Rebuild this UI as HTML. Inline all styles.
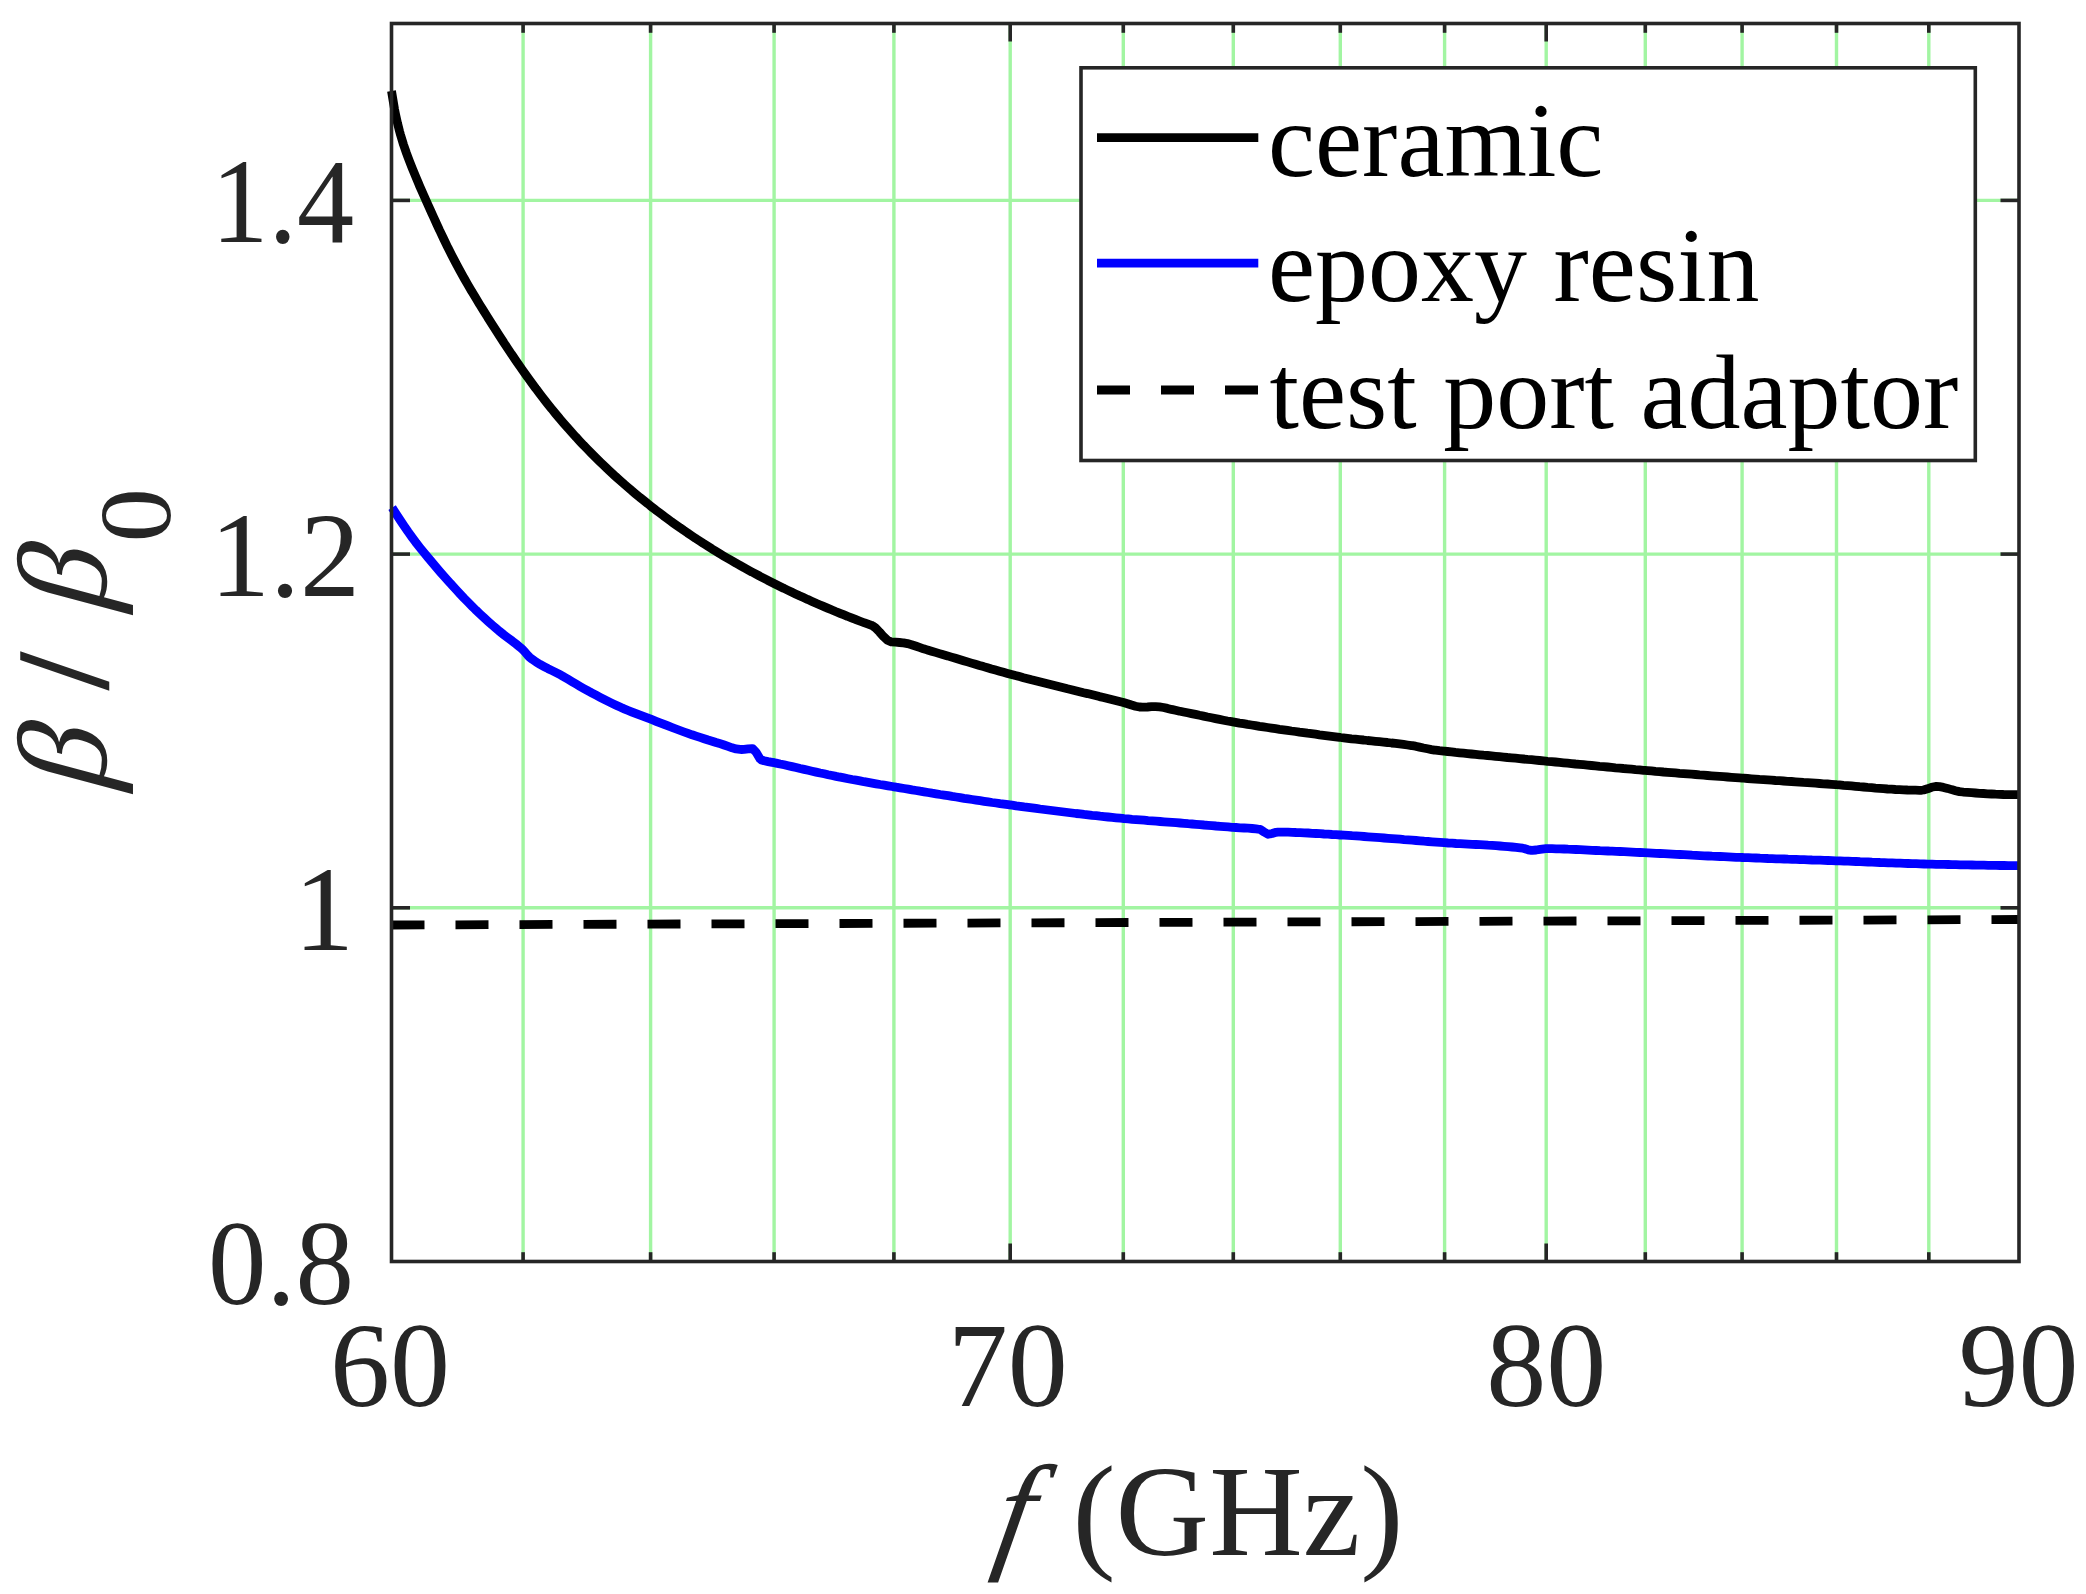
<!DOCTYPE html>
<html lang="en"><head><meta charset="utf-8"><title>beta / beta0 vs f (GHz)</title>
<style>
html,body{margin:0;padding:0;background:#fff;}
body{width:2086px;height:1594px;overflow:hidden;}
svg{display:block;}
text{font-family:"Liberation Serif","Times New Roman",serif;}
.tk{font-size:120px;fill:#262626;}
.lb{font-size:129.5px;fill:#262626;}
.lg{font-size:106px;fill:#000;}
</style></head><body>
<svg width="2086" height="1594" viewBox="0 0 2086 1594">
<rect x="0" y="0" width="2086" height="1594" fill="#fff"/>

<g stroke="#a2f5a2" stroke-width="3.4" fill="none">
<line x1="523.1" y1="23.5" x2="523.1" y2="1261.5"/>
<line x1="650.6" y1="23.5" x2="650.6" y2="1261.5"/>
<line x1="774.1" y1="23.5" x2="774.1" y2="1261.5"/>
<line x1="893.9" y1="23.5" x2="893.9" y2="1261.5"/>
<line x1="1010.2" y1="23.5" x2="1010.2" y2="1261.5"/>
<line x1="1123.3" y1="23.5" x2="1123.3" y2="1261.5"/>
<line x1="1233.3" y1="23.5" x2="1233.3" y2="1261.5"/>
<line x1="1340.3" y1="23.5" x2="1340.3" y2="1261.5"/>
<line x1="1444.6" y1="23.5" x2="1444.6" y2="1261.5"/>
<line x1="1546.2" y1="23.5" x2="1546.2" y2="1261.5"/>
<line x1="1645.3" y1="23.5" x2="1645.3" y2="1261.5"/>
<line x1="1742.1" y1="23.5" x2="1742.1" y2="1261.5"/>
<line x1="1836.5" y1="23.5" x2="1836.5" y2="1261.5"/>
<line x1="1928.8" y1="23.5" x2="1928.8" y2="1261.5"/>
<line x1="391.5" y1="907.8" x2="2019.0" y2="907.8"/>
<line x1="391.5" y1="554.1" x2="2019.0" y2="554.1"/>
<line x1="391.5" y1="200.4" x2="2019.0" y2="200.4"/>
</g>
<clipPath id="c"><rect x="387.0" y="23.5" width="1632.0" height="1238.0"/></clipPath>
<g clip-path="url(#c)" fill="none" stroke-width="8.8" stroke-linejoin="round">
<polyline stroke="#000" points="391.5,91.0 394.5,109.0 395.5,114.0 397.5,123.1 399.5,131.1 400.5,134.7 403.5,144.6 406.5,153.3 407.5,156.0 409.5,161.3 411.5,166.4 412.5,168.9 415.5,176.2 418.5,183.3 419.5,185.7 421.5,190.3 423.5,194.8 424.5,197.1 427.5,203.8 430.5,210.4 431.5,212.6 433.5,217.0 435.5,221.4 436.5,223.6 439.5,230.1 440.0,231.1 443.5,238.5 447.5,246.8 448.0,247.8 451.5,254.7 455.5,262.4 456.0,263.4 459.5,269.9 463.5,277.1 464.0,278.0 467.5,284.1 471.5,290.9 472.0,291.8 475.5,297.6 479.5,304.2 480.0,305.0 483.5,310.6 487.5,317.0 488.0,317.8 491.5,323.3 495.5,329.6 496.0,330.4 499.5,335.9 503.5,342.0 504.0,342.8 507.5,348.1 511.5,354.1 512.0,354.8 515.5,360.0 519.5,365.8 520.0,366.5 523.5,371.5 527.5,377.1 528.0,377.8 531.5,382.6 535.5,388.1 536.0,388.7 539.5,393.4 543.5,398.6 544.0,399.2 547.5,403.7 551.5,408.7 552.0,409.3 555.5,413.6 559.5,418.4 560.0,419.0 563.5,423.1 567.5,427.7 568.0,428.2 571.5,432.2 575.5,436.6 576.0,437.1 579.5,440.9 583.5,445.2 584.0,445.7 587.5,449.3 591.5,453.4 592.0,453.9 595.5,457.4 599.5,461.4 600.0,461.8 603.5,465.2 607.5,469.0 608.0,469.5 611.5,472.7 615.5,476.4 616.0,476.9 619.5,480.0 623.5,483.5 624.0,484.0 627.5,487.0 631.5,490.4 632.0,490.8 635.5,493.8 639.5,497.1 640.0,497.5 643.5,500.3 647.5,503.5 648.0,503.9 651.5,506.7 655.5,509.8 656.0,510.2 659.5,512.8 663.5,515.8 664.0,516.2 667.5,518.8 671.5,521.7 672.0,522.1 675.5,524.6 679.5,527.4 680.0,527.7 683.5,530.2 687.5,532.9 688.0,533.3 691.5,535.6 695.5,538.3 696.0,538.6 699.5,540.9 703.5,543.5 704.0,543.8 707.5,546.0 711.5,548.5 712.0,548.9 715.5,551.0 719.5,553.5 720.0,553.8 723.5,555.9 727.5,558.2 728.0,558.5 731.5,560.6 735.5,562.9 736.0,563.2 739.5,565.1 743.5,567.4 744.0,567.7 747.5,569.6 751.5,571.8 752.0,572.0 755.5,573.9 759.5,576.0 760.0,576.3 763.5,578.1 767.5,580.2 768.0,580.5 771.5,582.2 775.5,584.2 776.0,584.5 779.5,586.2 783.5,588.2 784.0,588.4 787.5,590.1 791.5,592.0 792.0,592.3 795.5,593.9 799.5,595.8 800.0,596.0 803.5,597.6 807.5,599.4 808.0,599.6 811.5,601.2 815.5,603.0 816.0,603.2 819.5,604.7 823.5,606.4 824.0,606.6 827.5,608.1 831.5,609.8 832.0,610.0 835.5,611.5 839.5,613.1 840.0,613.3 843.5,614.7 847.5,616.3 848.0,616.5 851.5,617.9 855.5,619.4 856.0,619.6 859.5,621.0 863.5,622.5 864.0,622.7 867.5,623.9 871.5,625.3 872.7,625.9 875.5,627.9 879.5,632.0 883.5,636.6 887.5,640.3 890.9,641.8 891.5,641.9 895.5,642.2 899.5,642.5 902.9,642.8 903.5,642.9 907.5,643.6 911.5,644.7 915.5,646.0 919.5,647.4 923.5,648.8 927.1,649.9 927.5,650.0 931.5,651.2 935.5,652.4 939.5,653.6 943.5,654.8 947.5,655.9 951.5,657.1 955.5,658.3 959.5,659.5 963.5,660.7 967.5,661.9 971.5,663.1 975.5,664.3 979.5,665.5 983.5,666.6 987.5,667.8 991.5,669.0 995.5,670.1 999.5,671.2 1003.5,672.3 1007.5,673.4 1009.6,674.0 1011.5,674.5 1015.5,675.6 1019.5,676.6 1023.5,677.7 1027.5,678.7 1031.5,679.8 1035.5,680.8 1039.5,681.8 1043.5,682.8 1047.5,683.8 1051.5,684.8 1055.5,685.8 1059.5,686.8 1063.5,687.8 1067.5,688.8 1071.5,689.7 1075.5,690.7 1079.5,691.7 1083.5,692.7 1087.5,693.6 1091.5,694.6 1095.5,695.6 1099.5,696.6 1103.5,697.5 1107.5,698.5 1111.5,699.5 1115.5,700.5 1119.5,701.5 1122.4,702.2 1123.5,702.5 1127.5,703.7 1131.5,705.0 1135.5,706.2 1139.5,707.0 1142.5,707.2 1143.5,707.2 1147.5,707.0 1151.5,706.7 1154.6,706.6 1155.5,706.6 1159.5,706.9 1163.5,707.5 1167.5,708.4 1171.5,709.4 1175.5,710.3 1179.5,711.2 1180.0,711.3 1183.5,712.0 1187.5,712.8 1191.5,713.6 1195.5,714.4 1199.5,715.3 1203.5,716.1 1207.5,717.0 1211.5,717.8 1215.5,718.6 1219.5,719.4 1223.5,720.2 1227.5,721.0 1231.5,721.7 1232.7,721.9 1235.5,722.4 1239.5,723.1 1243.5,723.7 1247.5,724.4 1251.5,725.0 1255.5,725.6 1259.5,726.3 1263.5,726.9 1267.5,727.5 1271.5,728.1 1275.5,728.7 1279.5,729.3 1283.5,729.8 1287.5,730.4 1291.5,731.0 1295.5,731.5 1299.5,732.1 1303.5,732.6 1307.5,733.2 1311.5,733.7 1315.5,734.2 1319.5,734.8 1323.5,735.3 1327.5,735.8 1331.5,736.3 1335.5,736.8 1339.5,737.3 1340.7,737.5 1343.5,737.8 1347.5,738.3 1351.5,738.8 1355.5,739.2 1359.5,739.6 1363.5,740.0 1367.5,740.5 1371.5,740.9 1375.5,741.3 1379.5,741.7 1383.5,742.1 1387.5,742.5 1391.5,743.0 1395.5,743.4 1399.5,743.9 1403.5,744.4 1407.5,745.0 1411.5,745.6 1412.4,745.7 1415.5,746.2 1419.5,747.1 1423.5,748.0 1427.5,748.8 1431.5,749.6 1434.5,750.1 1435.5,750.2 1439.5,750.7 1443.5,751.1 1444.4,751.2 1447.5,751.5 1451.5,751.9 1455.5,752.4 1459.5,752.8 1463.5,753.2 1467.5,753.6 1471.5,754.0 1475.5,754.4 1479.5,754.8 1483.5,755.2 1487.5,755.5 1491.5,755.9 1495.5,756.3 1499.5,756.7 1503.5,757.1 1507.5,757.5 1511.5,757.8 1515.5,758.2 1519.5,758.6 1523.5,759.0 1527.5,759.4 1531.5,759.7 1535.5,760.1 1539.5,760.5 1543.5,760.9 1545.8,761.1 1547.5,761.3 1551.5,761.6 1555.5,762.0 1559.5,762.4 1563.5,762.8 1567.5,763.2 1571.5,763.6 1575.5,764.0 1579.5,764.3 1583.5,764.7 1587.5,765.1 1591.5,765.5 1595.5,765.9 1599.5,766.3 1603.5,766.6 1607.5,767.0 1611.5,767.4 1615.5,767.8 1619.5,768.1 1623.5,768.5 1627.5,768.8 1631.5,769.2 1635.5,769.6 1639.5,769.9 1643.5,770.3 1645.1,770.4 1647.5,770.6 1651.5,770.9 1655.5,771.3 1659.5,771.6 1663.5,772.0 1667.5,772.3 1671.5,772.6 1675.5,772.9 1679.5,773.3 1683.5,773.6 1687.5,773.9 1691.5,774.2 1695.5,774.5 1699.5,774.9 1703.5,775.2 1707.5,775.5 1711.5,775.8 1715.5,776.1 1719.5,776.4 1723.5,776.7 1727.5,777.0 1731.5,777.3 1735.5,777.6 1739.5,777.9 1742.1,778.1 1743.5,778.2 1747.5,778.5 1751.5,778.8 1755.5,779.1 1759.5,779.4 1763.5,779.6 1767.5,779.9 1771.5,780.2 1775.5,780.5 1779.5,780.7 1783.5,781.0 1787.5,781.3 1791.5,781.5 1795.5,781.8 1799.5,782.1 1803.5,782.4 1807.5,782.6 1811.5,782.9 1815.5,783.2 1819.5,783.5 1823.5,783.8 1827.5,784.0 1831.5,784.3 1835.5,784.6 1836.5,784.7 1839.5,784.9 1843.5,785.3 1847.5,785.6 1851.5,785.9 1855.5,786.3 1859.5,786.7 1863.5,787.0 1867.5,787.4 1871.5,787.7 1875.5,788.1 1879.5,788.4 1883.5,788.7 1887.5,789.0 1891.5,789.2 1895.5,789.5 1898.7,789.6 1899.5,789.6 1903.5,789.8 1907.5,790.0 1911.5,790.1 1915.5,790.2 1919.5,790.3 1920.8,790.3 1923.5,790.0 1927.5,788.8 1931.5,787.3 1935.5,786.5 1936.2,786.5 1939.5,786.7 1943.5,787.4 1947.5,788.4 1951.5,789.6 1955.5,790.7 1959.5,791.6 1962.7,792.0 1963.5,792.1 1967.5,792.4 1971.5,792.7 1975.5,793.0 1979.5,793.3 1983.5,793.5 1987.5,793.8 1991.5,794.0 1995.5,794.2 1999.5,794.3 2003.5,794.5 2007.5,794.6 2011.5,794.6 2015.5,794.7 2018.9,794.7"/>
<polyline stroke="#0000ff" points="392.1,507.6 396.1,513.9 400.1,520.0 402.1,523.0 404.1,525.9 408.1,531.8 412.1,537.4 415.3,541.7 416.1,542.8 420.1,547.9 424.1,552.8 428.1,557.6 429.6,559.4 432.1,562.4 436.1,567.1 440.1,571.8 444.1,576.3 448.1,580.8 450.6,583.6 452.1,585.2 456.1,589.6 460.1,593.9 464.1,598.2 468.1,602.3 472.1,606.3 474.8,609.0 476.1,610.3 480.1,614.1 484.1,617.8 488.1,621.4 492.1,625.0 496.1,628.4 499.1,631.0 500.1,631.8 504.1,635.0 508.1,638.0 512.1,640.9 516.1,644.0 520.1,647.3 522.9,649.8 524.1,651.0 528.1,655.8 529.9,657.5 532.1,659.2 536.1,662.0 540.1,664.4 544.1,666.6 548.1,668.7 552.1,670.6 556.1,672.6 560.1,674.7 563.0,676.3 564.1,676.9 568.1,679.3 572.1,681.7 576.1,684.0 580.1,686.4 584.1,688.7 588.1,690.9 589.5,691.7 592.1,693.1 596.1,695.2 600.1,697.3 604.1,699.4 608.1,701.4 612.1,703.4 616.1,705.3 620.1,707.1 622.6,708.2 624.1,708.8 628.1,710.5 632.1,712.1 636.1,713.7 640.1,715.2 644.1,716.7 648.1,718.2 650.8,719.2 652.1,719.7 656.1,721.3 660.1,722.8 664.1,724.4 668.1,725.9 672.1,727.5 676.1,729.0 680.1,730.5 684.1,732.0 688.1,733.4 688.7,733.6 692.1,734.8 696.1,736.1 700.1,737.4 704.1,738.7 708.1,740.0 712.1,741.2 716.1,742.5 719.6,743.5 720.1,743.6 724.1,745.0 728.1,746.4 732.1,747.8 736.1,748.9 740.1,749.4 741.6,749.5 744.1,749.4 748.1,748.9 752.1,748.6 752.6,748.6 756.1,752.2 760.1,758.9 761.5,760.0 764.1,760.8 768.1,761.6 772.1,762.3 774.3,762.7 776.1,763.1 780.1,764.0 784.1,764.8 788.1,765.7 792.1,766.6 796.1,767.5 800.1,768.5 804.1,769.4 808.1,770.3 812.1,771.2 816.1,772.1 820.1,773.0 824.1,773.8 828.1,774.7 832.1,775.5 836.1,776.4 840.1,777.2 840.3,777.2 844.1,777.9 848.1,778.7 852.1,779.5 856.1,780.2 860.1,780.9 864.1,781.7 868.1,782.4 872.1,783.1 876.1,783.8 880.1,784.5 884.1,785.1 888.1,785.8 892.1,786.5 893.9,786.8 896.1,787.2 900.1,787.8 904.1,788.5 908.1,789.2 912.1,789.9 916.1,790.5 920.1,791.2 924.1,791.8 928.1,792.5 932.1,793.2 936.1,793.8 940.1,794.5 944.1,795.1 948.1,795.7 952.1,796.4 956.1,797.0 960.1,797.6 964.1,798.3 968.1,798.9 972.1,799.5 976.1,800.1 980.1,800.7 984.1,801.3 988.1,801.9 992.1,802.5 996.1,803.0 1000.1,803.6 1004.1,804.1 1008.1,804.7 1009.6,804.9 1012.1,805.2 1016.1,805.8 1020.1,806.3 1024.1,806.9 1028.1,807.4 1032.1,807.9 1036.1,808.4 1040.1,809.0 1044.1,809.5 1048.1,810.0 1052.1,810.5 1056.1,811.0 1060.1,811.5 1064.1,812.0 1068.1,812.5 1072.1,813.0 1076.1,813.5 1080.1,813.9 1084.1,814.4 1088.1,814.8 1092.1,815.3 1096.1,815.7 1100.1,816.2 1104.1,816.6 1108.1,817.0 1112.1,817.4 1116.1,817.8 1120.1,818.2 1122.4,818.4 1124.1,818.6 1128.1,818.9 1132.1,819.3 1136.1,819.6 1140.1,819.9 1144.1,820.2 1148.1,820.6 1152.1,820.9 1156.1,821.2 1160.1,821.5 1164.1,821.8 1168.1,822.1 1172.1,822.4 1176.1,822.7 1180.0,823.0 1180.1,823.0 1184.1,823.3 1188.1,823.7 1192.1,824.0 1196.1,824.3 1200.1,824.6 1204.1,825.0 1208.1,825.3 1212.1,825.6 1216.1,826.0 1220.1,826.3 1224.1,826.6 1228.1,826.9 1232.1,827.3 1232.7,827.3 1236.1,827.5 1240.1,827.8 1244.1,828.0 1248.1,828.2 1252.1,828.5 1256.1,828.9 1260.1,829.5 1260.3,829.5 1264.1,832.0 1268.0,834.3 1268.1,834.3 1272.1,833.5 1276.1,832.3 1277.9,832.1 1280.1,832.1 1284.1,832.1 1288.1,832.2 1292.1,832.3 1296.1,832.5 1300.1,832.6 1304.1,832.8 1308.1,833.0 1312.1,833.3 1316.1,833.5 1320.1,833.7 1324.1,834.0 1328.1,834.2 1332.1,834.5 1336.1,834.7 1340.1,835.0 1340.7,835.0 1344.1,835.2 1348.1,835.4 1352.1,835.7 1356.1,835.9 1360.1,836.2 1364.1,836.5 1368.1,836.8 1372.1,837.1 1376.1,837.4 1380.1,837.7 1384.1,838.0 1388.1,838.3 1392.1,838.6 1396.1,838.9 1400.1,839.2 1404.1,839.6 1408.1,839.9 1412.1,840.2 1416.1,840.5 1420.1,840.8 1424.1,841.2 1428.1,841.5 1432.1,841.8 1436.1,842.1 1440.1,842.4 1444.1,842.7 1444.4,842.7 1448.1,843.0 1452.1,843.2 1456.1,843.5 1460.1,843.7 1464.1,843.9 1468.1,844.1 1472.1,844.3 1476.1,844.5 1480.1,844.7 1484.1,844.9 1488.1,845.2 1492.1,845.4 1496.1,845.7 1500.1,846.0 1504.1,846.3 1508.1,846.6 1512.1,847.0 1516.1,847.4 1520.1,847.9 1522.7,848.2 1524.1,848.5 1528.1,849.8 1531.5,850.4 1532.1,850.4 1536.1,850.0 1540.1,849.3 1544.1,848.8 1545.8,848.7 1548.1,848.7 1552.1,848.7 1556.1,848.8 1560.1,848.9 1564.1,849.0 1568.1,849.2 1572.1,849.3 1576.1,849.5 1580.1,849.7 1584.1,849.9 1588.1,850.1 1592.1,850.3 1596.1,850.5 1600.1,850.7 1604.1,850.8 1608.1,851.0 1610.0,851.1 1612.1,851.2 1616.1,851.4 1620.1,851.5 1624.1,851.7 1628.1,851.9 1632.1,852.1 1636.1,852.3 1640.1,852.5 1644.1,852.7 1648.1,852.9 1652.1,853.1 1656.1,853.3 1660.1,853.5 1664.1,853.7 1668.1,853.9 1672.1,854.1 1676.1,854.3 1680.1,854.5 1684.1,854.7 1688.1,854.9 1692.1,855.2 1696.1,855.4 1700.1,855.6 1704.1,855.8 1708.1,856.0 1712.1,856.2 1716.1,856.3 1720.1,856.5 1724.1,856.7 1728.1,856.9 1732.1,857.1 1736.1,857.3 1740.1,857.4 1742.1,857.5 1744.1,857.6 1748.1,857.7 1752.1,857.9 1756.1,858.0 1760.1,858.2 1764.1,858.3 1768.1,858.5 1772.1,858.6 1776.1,858.8 1780.1,858.9 1784.1,859.0 1788.1,859.2 1792.1,859.3 1796.1,859.4 1800.1,859.6 1804.1,859.7 1808.1,859.8 1812.1,860.0 1816.1,860.1 1820.1,860.2 1824.1,860.4 1828.1,860.5 1832.1,860.6 1836.1,860.8 1836.5,860.8 1840.1,860.9 1844.1,861.1 1848.1,861.2 1852.1,861.4 1856.1,861.5 1860.1,861.7 1864.1,861.8 1868.1,862.0 1872.1,862.2 1876.1,862.3 1880.1,862.5 1884.1,862.6 1888.1,862.8 1892.1,862.9 1896.1,863.1 1900.1,863.2 1904.1,863.4 1908.1,863.5 1912.1,863.6 1916.1,863.7 1920.1,863.9 1924.1,864.0 1928.1,864.1 1929.6,864.1 1932.1,864.2 1936.1,864.3 1940.1,864.3 1944.1,864.4 1948.1,864.5 1952.1,864.6 1956.1,864.7 1960.1,864.8 1964.1,864.9 1968.1,864.9 1972.1,865.0 1976.1,865.1 1980.1,865.2 1984.1,865.2 1988.1,865.3 1992.1,865.4 1996.1,865.4 2000.1,865.5 2004.1,865.5 2008.1,865.6 2012.1,865.6 2016.1,865.7 2018.9,865.7"/>
<line stroke="#000" x1="391.5" y1="925" x2="2019.0" y2="919.5" stroke-dasharray="33 31"/>
</g>
<g stroke="#262626" stroke-width="3.6" fill="none">
<line x1="523.1" y1="1261.5" x2="523.1" y2="1252.2"/><line x1="523.1" y1="23.5" x2="523.1" y2="32.8"/>
<line x1="650.6" y1="1261.5" x2="650.6" y2="1252.2"/><line x1="650.6" y1="23.5" x2="650.6" y2="32.8"/>
<line x1="774.1" y1="1261.5" x2="774.1" y2="1252.2"/><line x1="774.1" y1="23.5" x2="774.1" y2="32.8"/>
<line x1="893.9" y1="1261.5" x2="893.9" y2="1252.2"/><line x1="893.9" y1="23.5" x2="893.9" y2="32.8"/>
<line x1="1010.2" y1="1261.5" x2="1010.2" y2="1243.5"/><line x1="1010.2" y1="23.5" x2="1010.2" y2="41.5"/>
<line x1="1123.3" y1="1261.5" x2="1123.3" y2="1252.2"/><line x1="1123.3" y1="23.5" x2="1123.3" y2="32.8"/>
<line x1="1233.3" y1="1261.5" x2="1233.3" y2="1252.2"/><line x1="1233.3" y1="23.5" x2="1233.3" y2="32.8"/>
<line x1="1340.3" y1="1261.5" x2="1340.3" y2="1252.2"/><line x1="1340.3" y1="23.5" x2="1340.3" y2="32.8"/>
<line x1="1444.6" y1="1261.5" x2="1444.6" y2="1252.2"/><line x1="1444.6" y1="23.5" x2="1444.6" y2="32.8"/>
<line x1="1546.2" y1="1261.5" x2="1546.2" y2="1243.5"/><line x1="1546.2" y1="23.5" x2="1546.2" y2="41.5"/>
<line x1="1645.3" y1="1261.5" x2="1645.3" y2="1252.2"/><line x1="1645.3" y1="23.5" x2="1645.3" y2="32.8"/>
<line x1="1742.1" y1="1261.5" x2="1742.1" y2="1252.2"/><line x1="1742.1" y1="23.5" x2="1742.1" y2="32.8"/>
<line x1="1836.5" y1="1261.5" x2="1836.5" y2="1252.2"/><line x1="1836.5" y1="23.5" x2="1836.5" y2="32.8"/>
<line x1="1928.8" y1="1261.5" x2="1928.8" y2="1252.2"/><line x1="1928.8" y1="23.5" x2="1928.8" y2="32.8"/>
<line x1="391.5" y1="907.8" x2="410.0" y2="907.8"/><line x1="2019.0" y1="907.8" x2="2000.5" y2="907.8"/>
<line x1="391.5" y1="554.1" x2="410.0" y2="554.1"/><line x1="2019.0" y1="554.1" x2="2000.5" y2="554.1"/>
<line x1="391.5" y1="200.4" x2="410.0" y2="200.4"/><line x1="2019.0" y1="200.4" x2="2000.5" y2="200.4"/>
<rect x="391.5" y="23.5" width="1627.5" height="1238.0"/>
</g>
<text class="tk" x="390.0" y="1405.5" text-anchor="middle">60</text>
<text class="tk" x="1007.7" y="1405.5" text-anchor="middle">70</text>
<text class="tk" x="1546.2" y="1405.5" text-anchor="middle">80</text>
<text class="tk" x="2018.5" y="1405.5" text-anchor="middle">90</text>
<text class="tk" x="354" y="1303.5" text-anchor="end" textLength="146" lengthAdjust="spacingAndGlyphs">0.8</text>
<text class="tk" x="354" y="949.8" text-anchor="end">1</text>
<text class="tk" x="360" y="596.1" text-anchor="end">1.2</text>
<text class="tk" x="354" y="242.4" text-anchor="end" textLength="142.7" lengthAdjust="spacingAndGlyphs">1.4</text>
<text class="lb" font-style="italic" transform="translate(991,1554.5) skewX(-10)">f</text>
<text class="lb" x="1072.5" y="1554.5">(GHz)</text>
<g transform="translate(107,800) rotate(-90)" fill="#262626"><text font-size="126.7" transform="translate(4.7,-1.5) skewX(-15)">β</text><text font-size="129.5" x="111" y="0" stroke="#262626" stroke-width="2.5">/</text><text font-size="126.7" transform="translate(183.8,-1.5) skewX(-15)">β</text><text font-size="101" x="257.5" y="63.3" textLength="54.5" lengthAdjust="spacingAndGlyphs">0</text></g>
<rect x="1081" y="67.8" width="894.3" height="392.7" fill="#fff" stroke="#262626" stroke-width="3.6"/>
<g fill="none" stroke-width="8.8"><line stroke="#000" x1="1097" y1="137.7" x2="1258.3" y2="137.7"/><line stroke="#0000ff" x1="1097" y1="263.2" x2="1258.3" y2="263.2"/><line stroke="#000" x1="1097" y1="390" x2="1258.3" y2="390" stroke-dasharray="33 31"/></g>
<text class="lg" x="1268" y="175.5">ceramic</text>
<text class="lg" x="1268" y="301">epoxy resin</text>
<text class="lg" x="1269.5" y="428">test port adaptor</text>
</svg></body></html>
